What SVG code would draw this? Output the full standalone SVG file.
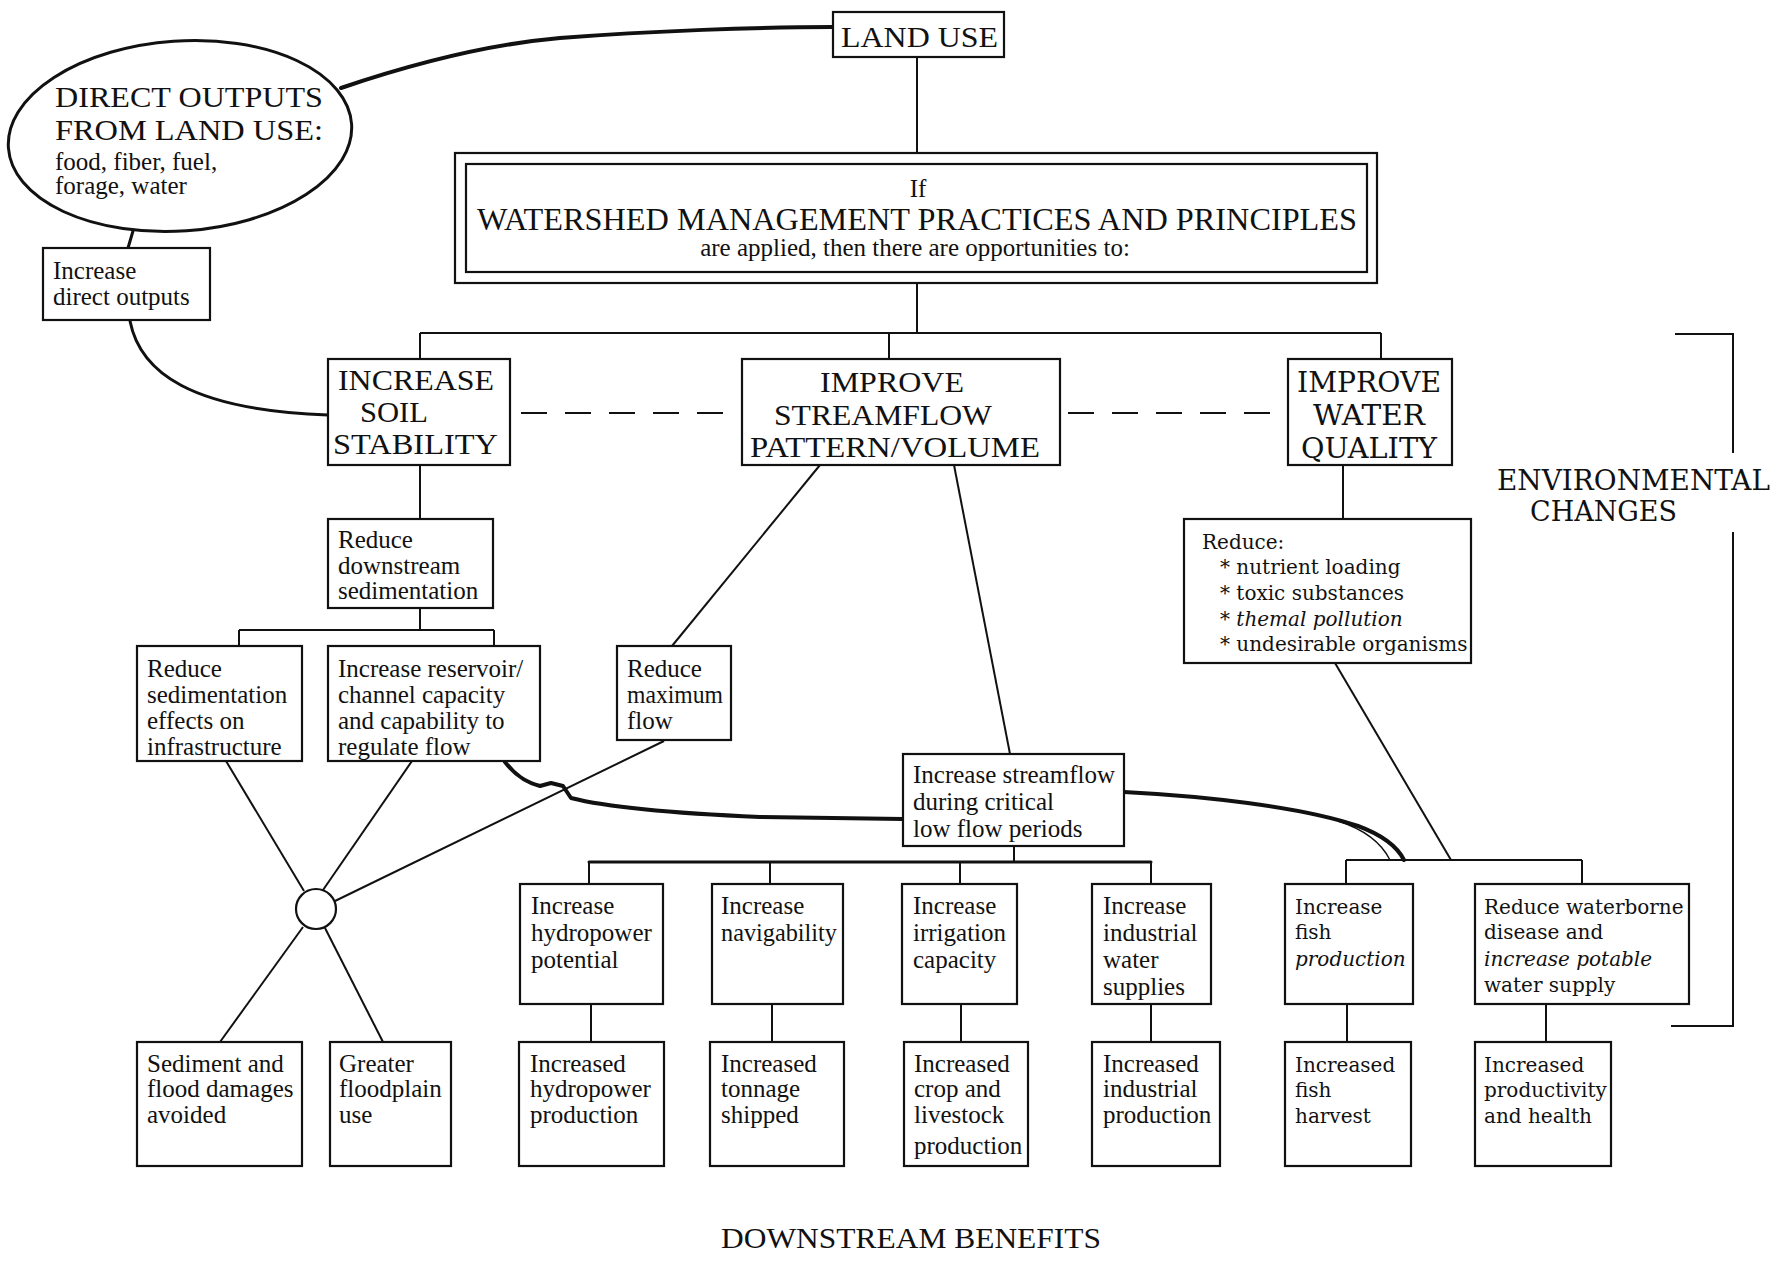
<svg xmlns="http://www.w3.org/2000/svg" width="1781" height="1265" viewBox="0 0 1781 1265">
<style>
  .bx { fill: #fff; stroke: #111; stroke-width: 2.2; }
  .ln { fill: none; stroke: #111; stroke-width: 2; }
  .thk { fill: none; stroke: #111; stroke-width: 4; stroke-linecap: round; stroke-linejoin: round; }
  .med { fill: none; stroke: #111; stroke-width: 3; stroke-linecap: round; }
  .dsh { fill: none; stroke: #111; stroke-width: 2; stroke-dasharray: 26 18; }
  .t { font-family: "Liberation Serif", "Times New Roman", serif; font-size: 25px; fill: #111; }
  .big { font-family: "Liberation Serif", "Times New Roman", serif; font-size: 30px; fill: #111; }
  .w { font-family: "DejaVu Serif", "Liberation Serif", serif; font-size: 20px; fill: #111; }
  .wb { font-family: "DejaVu Serif", "Liberation Serif", serif; font-size: 27px; fill: #111; }
  .it { font-style: italic; }
</style>
<rect x="0" y="0" width="1781" height="1265" fill="#fff"/>

<g id="connectors">
  <path class="thk" d="M341,88 C400,68 480,45 560,38 C650,31 760,27 833,27"/>
  <path class="med" d="M133,231 L128,248"/>
  <path class="med" d="M130,321 C140,372 190,410 328,415"/>
  <path class="ln" d="M917,57 L917,153"/>
  <path class="ln" d="M917,283 L917,333"/>
  <path class="ln" d="M420,333 L1381,333"/>
  <path class="ln" d="M420,333 L420,359 M889,333 L889,359 M1381,333 L1381,359"/>
  <path class="dsh" d="M521,413 L735,413"/>
  <path class="dsh" d="M1068,413 L1280,413"/>
  <path class="ln" d="M420,465 L420,519"/>
  <path class="ln" d="M420,608 L420,630 M239,630 L494,630 M239,630 L239,646 M494,630 L494,646"/>
  <path class="ln" d="M820,465 L672,646"/>
  <path class="ln" d="M954,465 L1010,754"/>
  <path class="ln" d="M226,761 L304,891"/>
  <path class="ln" d="M412,761 L323,890"/>
  <path class="ln" d="M664,741 L335,901"/>
  <path class="ln" d="M303,927 L220,1042"/>
  <path class="ln" d="M325,928 L383,1042"/>
  <path class="thk" d="M505,762 C515,775 525,782 540,786 L551,783 L563,786 L571,798 C610,808 690,814 760,817 L903,819"/>
  <path class="thk" d="M1124,792 C1200,796 1300,806 1358,826 C1385,836 1398,848 1404,860"/>
  <path class="ln" style="stroke-width:1.4" d="M1338,821 C1366,830 1382,844 1390,860"/>
  <path class="ln" d="M1014,846 L1014,862"/>
  <path class="med" d="M589,862 L1151,862"/>
  <path class="ln" d="M589,862 L589,884 M770,862 L770,884 M960,862 L960,884 M1151,862 L1151,884"/>
  <path class="ln" d="M591,1004 L591,1042 M772,1004 L772,1042 M961,1004 L961,1042 M1151,1004 L1151,1042"/>
  <path class="ln" d="M1343,465 L1343,519"/>
  <path class="ln" d="M1335,663 L1451,860"/>
  <path class="ln" d="M1346,860 L1582,860 M1346,860 L1346,884 M1582,860 L1582,884"/>
  <path class="ln" d="M1347,1004 L1347,1042 M1546,1004 L1546,1042"/>
  <path class="ln" d="M1675,334 L1733,334 L1733,453 M1733,532 L1733,1026 L1671,1026"/>
</g>

<g id="n-ellipse">
  <ellipse cx="180" cy="136" rx="172" ry="95" transform="rotate(-4 180 136)" fill="#fff" stroke="#111" stroke-width="3"/>
  <text class="big" x="55" y="107" textLength="268" lengthAdjust="spacingAndGlyphs">DIRECT OUTPUTS</text>
  <text class="big" x="55" y="140" textLength="268" lengthAdjust="spacingAndGlyphs">FROM LAND USE:</text>
  <text class="t" x="55" y="170">food, fiber, fuel,</text>
  <text class="t" x="55" y="194">forage, water</text>
</g>

<g id="n-landuse">
  <rect class="bx" x="833" y="12" width="171" height="45"/>
  <text class="big" x="841" y="47" textLength="157" lengthAdjust="spacingAndGlyphs">LAND USE</text>
</g>

<g id="n-direct">
  <rect class="bx" x="43" y="248" width="167" height="72"/>
  <text class="t" x="53" y="279">Increase</text>
  <text class="t" x="53" y="305">direct outputs</text>
</g>

<g id="n-watershed">
  <rect class="bx" x="455" y="153" width="922" height="130"/>
  <rect class="bx" x="466" y="164" width="901" height="108"/>
  <text class="t" x="918" y="197" text-anchor="middle">If</text>
  <text class="big" x="917" y="230" style="font-size:32px" text-anchor="middle" textLength="880" lengthAdjust="spacingAndGlyphs">WATERSHED MANAGEMENT PRACTICES AND PRINCIPLES</text>
  <text class="t" x="915" y="256" text-anchor="middle">are applied, then there are opportunities to:</text>
</g>

<g id="n-soil">
  <rect class="bx" x="328" y="359" width="182" height="106"/>
  <text class="big" x="338" y="390" textLength="156" lengthAdjust="spacingAndGlyphs">INCREASE</text>
  <text class="big" x="360" y="422" textLength="68" lengthAdjust="spacingAndGlyphs">SOIL</text>
  <text class="big" x="333" y="454" textLength="165" lengthAdjust="spacingAndGlyphs">STABILITY</text>
</g>

<g id="n-streamflow">
  <rect class="bx" x="742" y="359" width="318" height="106"/>
  <text class="big" x="820" y="392" textLength="144" lengthAdjust="spacingAndGlyphs">IMPROVE</text>
  <text class="big" x="774" y="425" textLength="218" lengthAdjust="spacingAndGlyphs">STREAMFLOW</text>
  <text class="big" x="750" y="457" textLength="290" lengthAdjust="spacingAndGlyphs">PATTERN/VOLUME</text>
</g>

<g id="n-quality">
  <rect class="bx" x="1288" y="359" width="164" height="106"/>
  <text class="wb" x="1369" y="392" text-anchor="middle" textLength="144" lengthAdjust="spacingAndGlyphs">IMPROVE</text>
  <text class="wb" x="1369" y="425" text-anchor="middle" textLength="112" lengthAdjust="spacingAndGlyphs">WATER</text>
  <text class="wb" x="1369" y="458" text-anchor="middle" textLength="136" lengthAdjust="spacingAndGlyphs">QUALITY</text>
</g>

<g id="n-env">
  <text class="wb" x="1497" y="490" textLength="273" lengthAdjust="spacingAndGlyphs">ENVIRONMENTAL</text>
  <text class="wb" x="1530" y="521" textLength="147" lengthAdjust="spacingAndGlyphs">CHANGES</text>
</g>

<g id="n-downsed">
  <rect class="bx" x="328" y="519" width="165" height="89"/>
  <text class="t" x="338" y="548">Reduce</text>
  <text class="t" x="338" y="574">downstream</text>
  <text class="t" x="338" y="599">sedimentation</text>
</g>

<g id="n-sedeffects">
  <rect class="bx" x="137" y="646" width="165" height="115"/>
  <text class="t" x="147" y="677">Reduce</text>
  <text class="t" x="147" y="703">sedimentation</text>
  <text class="t" x="147" y="729">effects on</text>
  <text class="t" x="147" y="755">infrastructure</text>
</g>

<g id="n-reservoir">
  <rect class="bx" x="328" y="646" width="212" height="115"/>
  <text class="t" x="338" y="677">Increase reservoir/</text>
  <text class="t" x="338" y="703">channel capacity</text>
  <text class="t" x="338" y="729">and capability to</text>
  <text class="t" x="338" y="755">regulate flow</text>
</g>

<g id="n-maxflow">
  <rect class="bx" x="617" y="646" width="114" height="94"/>
  <text class="t" x="627" y="677">Reduce</text>
  <text class="t" x="627" y="703" textLength="96" lengthAdjust="spacingAndGlyphs">maximum</text>
  <text class="t" x="627" y="729">flow</text>
</g>

<g id="n-reduce">
  <rect class="bx" x="1184" y="519" width="287" height="144"/>
  <text class="w" x="1202" y="549">Reduce:</text>
  <text class="w" x="1220" y="574">* nutrient loading</text>
  <text class="w" x="1220" y="600">* toxic substances</text>
  <text class="w" x="1220" y="626">* <tspan class="it">themal pollution</tspan></text>
  <text class="w" x="1220" y="651">* undesirable organisms</text>
</g>

<g id="n-circle">
  <circle cx="316" cy="909" r="20" fill="#fff" stroke="#111" stroke-width="2.2"/>
</g>

<g id="n-lowflow">
  <rect class="bx" x="903" y="754" width="221" height="92"/>
  <text class="t" x="913" y="783">Increase streamflow</text>
  <text class="t" x="913" y="810">during critical</text>
  <text class="t" x="913" y="837">low flow periods</text>
</g>

<g id="n-hydro">
  <rect class="bx" x="520" y="884" width="143" height="120"/>
  <text class="t" x="531" y="914">Increase</text>
  <text class="t" x="531" y="941">hydropower</text>
  <text class="t" x="531" y="968">potential</text>
</g>
<g id="n-nav">
  <rect class="bx" x="712" y="884" width="131" height="120"/>
  <text class="t" x="721" y="914">Increase</text>
  <text class="t" x="721" y="941" textLength="116" lengthAdjust="spacingAndGlyphs">navigability</text>
</g>
<g id="n-irr">
  <rect class="bx" x="902" y="884" width="115" height="120"/>
  <text class="t" x="913" y="914">Increase</text>
  <text class="t" x="913" y="941">irrigation</text>
  <text class="t" x="913" y="968">capacity</text>
</g>
<g id="n-ind">
  <rect class="bx" x="1092" y="884" width="119" height="120"/>
  <text class="t" x="1103" y="914">Increase</text>
  <text class="t" x="1103" y="941">industrial</text>
  <text class="t" x="1103" y="968">water</text>
  <text class="t" x="1103" y="995">supplies</text>
</g>
<g id="n-fish">
  <rect class="bx" x="1285" y="884" width="128" height="120"/>
  <text class="w" x="1295" y="914">Increase</text>
  <text class="w" x="1295" y="939">fish</text>
  <text class="w it" x="1295" y="966">production</text>
</g>
<g id="n-waterborne">
  <rect class="bx" x="1475" y="884" width="214" height="120"/>
  <text class="w" x="1484" y="914">Reduce waterborne</text>
  <text class="w" x="1484" y="939">disease and</text>
  <text class="w it" x="1484" y="966">increase potable</text>
  <text class="w" x="1484" y="992">water supply</text>
</g>

<g id="n-sediment">
  <rect class="bx" x="137" y="1042" width="165" height="124"/>
  <text class="t" x="147" y="1072">Sediment and</text>
  <text class="t" x="147" y="1097">flood damages</text>
  <text class="t" x="147" y="1123">avoided</text>
</g>
<g id="n-floodplain">
  <rect class="bx" x="330" y="1042" width="121" height="124"/>
  <text class="t" x="339" y="1072">Greater</text>
  <text class="t" x="339" y="1097">floodplain</text>
  <text class="t" x="339" y="1123">use</text>
</g>
<g id="n-hydroprod">
  <rect class="bx" x="519" y="1042" width="145" height="124"/>
  <text class="t" x="530" y="1072">Increased</text>
  <text class="t" x="530" y="1097">hydropower</text>
  <text class="t" x="530" y="1123">production</text>
</g>
<g id="n-tonnage">
  <rect class="bx" x="710" y="1042" width="134" height="124"/>
  <text class="t" x="721" y="1072">Increased</text>
  <text class="t" x="721" y="1097">tonnage</text>
  <text class="t" x="721" y="1123">shipped</text>
</g>
<g id="n-crop">
  <rect class="bx" x="904" y="1042" width="124" height="124"/>
  <text class="t" x="914" y="1072">Increased</text>
  <text class="t" x="914" y="1097">crop and</text>
  <text class="t" x="914" y="1123">livestock</text>
  <text class="t" x="914" y="1154">production</text>
</g>
<g id="n-indprod">
  <rect class="bx" x="1092" y="1042" width="128" height="124"/>
  <text class="t" x="1103" y="1072">Increased</text>
  <text class="t" x="1103" y="1097">industrial</text>
  <text class="t" x="1103" y="1123">production</text>
</g>
<g id="n-fishharvest">
  <rect class="bx" x="1285" y="1042" width="126" height="124"/>
  <text class="w" x="1295" y="1072">Increased</text>
  <text class="w" x="1295" y="1097">fish</text>
  <text class="w" x="1295" y="1123">harvest</text>
</g>
<g id="n-productivity">
  <rect class="bx" x="1475" y="1042" width="136" height="124"/>
  <text class="w" x="1484" y="1072">Increased</text>
  <text class="w" x="1484" y="1097">productivity</text>
  <text class="w" x="1484" y="1123">and health</text>
</g>

<g id="n-benefits">
  <text class="big" x="721" y="1248" textLength="380" lengthAdjust="spacingAndGlyphs">DOWNSTREAM BENEFITS</text>
</g>
</svg>
